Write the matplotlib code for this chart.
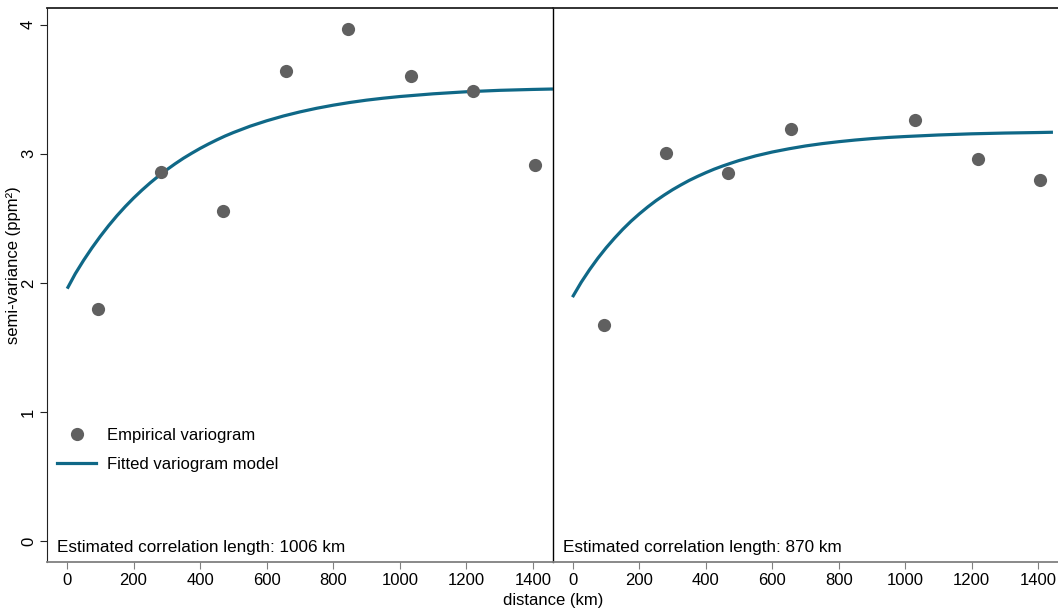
import matplotlib
matplotlib.use('Agg')
import matplotlib.pyplot as plt
from matplotlib.lines import Line2D

plt.rcParams['font.family'] = ['Liberation Sans', 'DejaVu Sans']
plt.rcParams['font.size'] = 12

# empirical variogram (lag distance in km, semi-variance in ppm^2)
lag_left = [94, 282, 470, 657, 845, 1033, 1220, 1407]
semi_left = [1.80, 2.86, 2.56, 3.64, 3.97, 3.60, 3.49, 2.91]
lag_right = [93, 281, 468, 656, 1031, 1219, 1406]
semi_right = [1.67, 3.01, 2.85, 3.19, 3.26, 2.96, 2.80]

# fitted model curves
fit_x_left = [3, 25, 50, 75, 100, 125, 150, 175, 200, 225, 250, 275, 300, 325,
              350, 375, 400, 425, 450, 475, 500, 550, 600, 650, 700, 750, 800,
              850, 900, 950, 1000, 1100, 1200, 1300, 1400, 1455]
fit_y_left = [1.966, 2.071, 2.175, 2.271, 2.360, 2.443, 2.520, 2.591, 2.657,
              2.718, 2.775, 2.828, 2.877, 2.923, 2.966, 3.005, 3.042, 3.076,
              3.108, 3.138, 3.165, 3.214, 3.256, 3.293, 3.325, 3.353, 3.377,
              3.398, 3.416, 3.431, 3.444, 3.465, 3.481, 3.492, 3.499, 3.502]
fit_x_right = [1, 25, 50, 75, 100, 125, 150, 175, 200, 225, 250, 275, 300, 325,
               350, 375, 400, 425, 450, 475, 500, 550, 600, 650, 700, 750, 800,
               850, 900, 950, 1000, 1100, 1200, 1300, 1400, 1440]
fit_y_right = [1.900, 2.005, 2.102, 2.191, 2.272, 2.346, 2.415, 2.478, 2.535,
               2.588, 2.637, 2.681, 2.722, 2.759, 2.794, 2.825, 2.854, 2.881,
               2.905, 2.927, 2.948, 2.984, 3.014, 3.039, 3.061, 3.079, 3.094,
               3.107, 3.118, 3.127, 3.134, 3.146, 3.155, 3.161, 3.165, 3.167]

corr_len = ['1006', '870']
xticks = [0, 200, 400, 600, 800, 1000, 1200, 1400]
yticks = [0, 1, 2, 3, 4]

dot_color = '#606060'
line_color = '#0f6887'
axis_gray = '#808080'

W, H = 1058, 609
fig = plt.figure(figsize=(W / 100, H / 100), dpi=100)

def px_rect(x0, y0, x1, y1):
    return [x0 / W, 1 - y1 / H, (x1 - x0) / W, (y1 - y0) / H]

ax1 = fig.add_axes(px_rect(47, 8, 553, 562))
ax2 = fig.add_axes(px_rect(553, 8, 1058, 562))

panels = [
    (ax1, lag_left, semi_left, fit_x_left, fit_y_left, corr_len[0]),
    (ax2, lag_right, semi_right, fit_x_right, fit_y_right, corr_len[1]),
]

for ax, lx, ly, fx, fy, cl in panels:
    ax.plot(lx, ly, 'o', color=dot_color, markersize=9.5, markeredgewidth=0,
            zorder=3)
    ax.plot(fx, fy, '-', color=line_color, linewidth=2.3,
            solid_joinstyle='round', zorder=2)
    ax.set_xlim(-60, 1460)
    ax.set_ylim(-0.163, 4.13)
    ax.set_xticks(xticks)
    ax.tick_params(axis='x', direction='out', length=5, color=axis_gray,
                   labelsize=12, pad=3)
    ax.spines['bottom'].set_color(axis_gray)
    ax.spines['bottom'].set_linewidth(1.3)
    ax.spines['top'].set_color('#222222')
    ax.spines['top'].set_linewidth(1.3)
    ax.text(0.02, 0.026, 'Estimated correlation length: %s km' % cl,
            transform=ax.transAxes, ha='left', va='center', fontsize=12.3)

ax1.set_yticks(yticks)
ax1.set_yticklabels([str(t) for t in yticks], rotation=90, va='center')
ax1.tick_params(axis='y', direction='out', length=5, color='#222222',
                labelsize=12, pad=3)
ax1.spines['left'].set_color('#222222')
ax1.spines['right'].set_visible(False)

# divider between the two panels
ax2.set_yticks([])
ax2.spines['left'].set_color('black')
ax2.spines['left'].set_linewidth(1.0)
ax2.spines['right'].set_visible(False)

handles = [
    Line2D([], [], marker='o', linestyle='none', color=dot_color,
           markersize=9.5, markeredgewidth=0),
    Line2D([], [], color=line_color, linewidth=2.3),
]
ax1.legend(handles, ['Empirical variogram', 'Fitted variogram model'],
           loc='upper left', bbox_to_anchor=(0.02, 0.242), frameon=False,
           borderpad=0, borderaxespad=0, handlelength=2.35,
           handletextpad=0.65, labelspacing=0.85, fontsize=12)

fig.text(14 / W, 1 - 265 / H, 'semi-variance (ppm²)', rotation=90,
         ha='center', va='center', fontsize=12)
fig.text(553 / W, 1 - 600 / H, 'distance (km)', ha='center', va='center',
         fontsize=12)

fig.savefig('out.png', dpi=100)
